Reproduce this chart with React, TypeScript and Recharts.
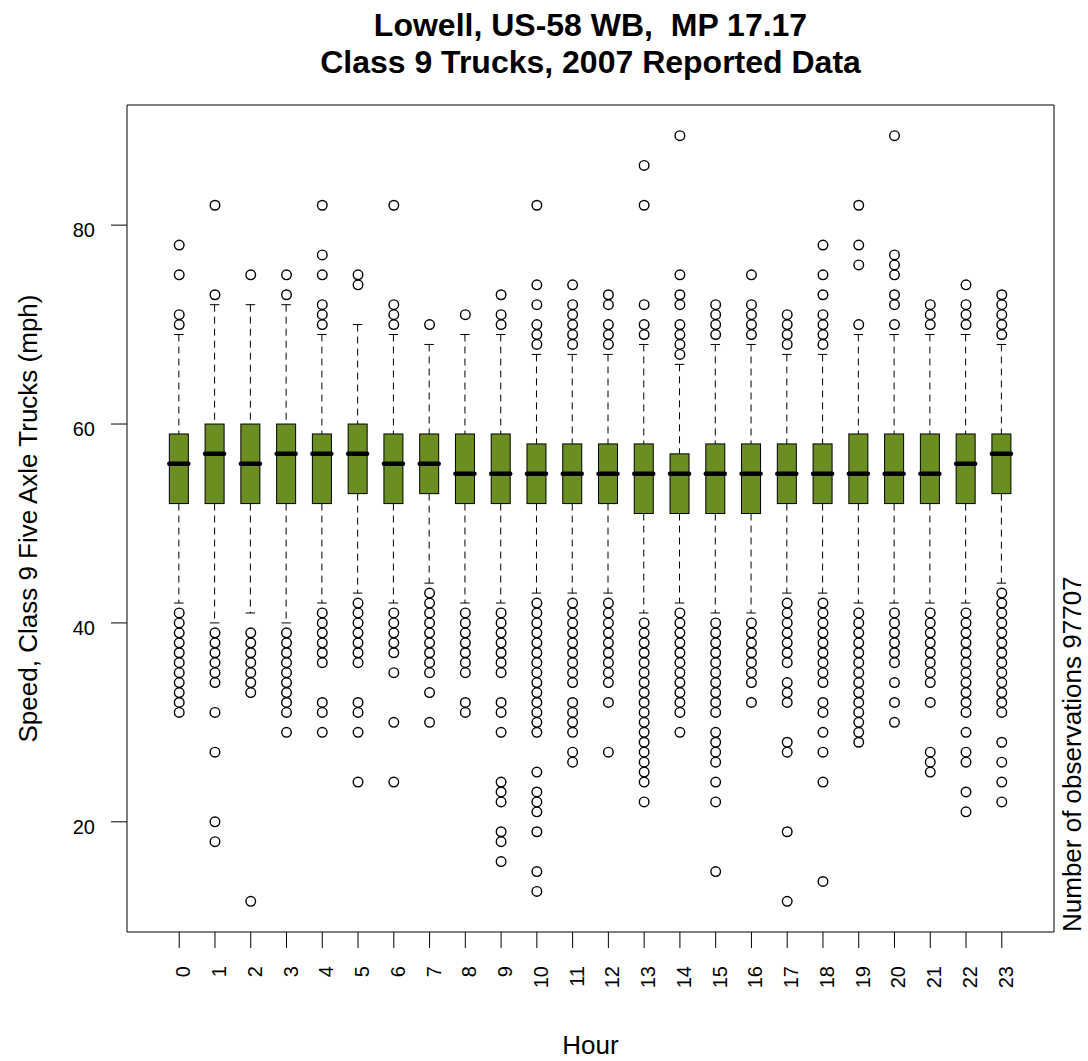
import { ComposedChart, Bar, Scatter, XAxis, YAxis, ReferenceArea } from 'recharts';

const hours = [0, 1, 2, 3, 4, 5, 6, 7, 8, 9, 10, 11, 12, 13, 14, 15, 16, 17, 18, 19, 20, 21, 22, 23];
const lowerWhisker = [42, 40, 41, 40, 42, 43, 42, 44, 42, 42, 43, 43, 43, 41, 42, 41, 41, 43, 43, 42, 42, 42, 42, 44];
const lowerHinge = [52, 52, 52, 52, 52, 53, 52, 53, 52, 52, 52, 52, 52, 51, 51, 51, 51, 52, 52, 52, 52, 52, 52, 53];
const medians = [56, 57, 56, 57, 57, 57, 56, 56, 55, 55, 55, 55, 55, 55, 55, 55, 55, 55, 55, 55, 55, 55, 56, 57];
const upperHinge = [59, 60, 60, 60, 59, 60, 59, 59, 59, 59, 58, 58, 58, 58, 57, 58, 58, 58, 58, 59, 59, 59, 59, 59];
const upperWhisker = [69, 72, 72, 72, 69, 70, 69, 68, 69, 69, 67, 67, 67, 68, 66, 68, 68, 67, 67, 69, 69, 69, 69, 68];

// outlying speeds per hour
const outliers: number[][] = [
  [78, 75, 71, 70, 41, 40, 39, 38, 37, 36, 35, 34, 33, 32, 31],
  [82, 73, 39, 38, 37, 36, 35, 34, 31, 27, 20, 18],
  [75, 39, 38, 37, 36, 35, 34, 33, 12],
  [75, 73, 39, 38, 37, 36, 35, 34, 33, 32, 31, 29],
  [82, 77, 75, 72, 71, 70, 41, 40, 39, 38, 37, 36, 32, 31, 29],
  [75, 74, 42, 41, 40, 39, 38, 37, 36, 32, 31, 29, 24],
  [82, 72, 71, 70, 41, 40, 39, 38, 37, 35, 30, 24],
  [70, 43, 42, 41, 40, 39, 38, 37, 36, 35, 33, 30],
  [71, 41, 40, 39, 38, 37, 36, 35, 32, 31],
  [73, 71, 70, 41, 40, 39, 38, 37, 36, 35, 32, 31, 29, 24, 23, 22, 19, 18, 16],
  [82, 74, 72, 70, 69, 68, 42, 41, 40, 39, 38, 37, 36, 35, 34, 33, 32, 31, 30, 29, 25, 23, 22, 21, 19, 15, 13],
  [74, 72, 71, 70, 69, 68, 42, 41, 40, 39, 38, 37, 36, 35, 34, 32, 31, 30, 29, 27, 26],
  [73, 72, 70, 69, 68, 42, 41, 40, 39, 38, 37, 36, 35, 34, 32, 27],
  [86, 82, 72, 70, 69, 40, 39, 38, 37, 36, 35, 34, 33, 32, 31, 30, 29, 28, 27, 26, 25, 24, 22],
  [89, 75, 73, 72, 70, 69, 68, 67, 41, 40, 39, 38, 37, 36, 35, 34, 33, 32, 31, 29],
  [72, 71, 70, 69, 40, 39, 38, 37, 36, 35, 34, 33, 32, 31, 29, 28, 27, 26, 24, 22, 15],
  [75, 72, 71, 70, 69, 40, 39, 38, 37, 36, 35, 34, 32],
  [71, 70, 69, 68, 42, 41, 40, 39, 38, 37, 36, 34, 33, 32, 28, 27, 19, 12],
  [78, 75, 73, 71, 70, 69, 68, 42, 41, 40, 39, 38, 37, 36, 35, 34, 32, 31, 29, 27, 24, 14],
  [82, 78, 76, 70, 41, 40, 39, 38, 37, 36, 35, 34, 33, 32, 31, 30, 29, 28],
  [89, 77, 76, 75, 73, 72, 70, 41, 40, 39, 38, 37, 36, 34, 32, 30],
  [72, 71, 70, 41, 40, 39, 38, 37, 36, 35, 34, 32, 27, 26, 25],
  [74, 72, 71, 70, 41, 40, 39, 38, 37, 36, 35, 34, 33, 32, 31, 29, 27, 26, 23, 21],
  [73, 72, 71, 70, 69, 43, 42, 41, 40, 39, 38, 37, 36, 35, 34, 33, 32, 31, 28, 26, 24, 22],
];

const yTicks = [20, 40, 60, 80];
const observations = 97707;

const FONT = '"Liberation Sans", Arial, Helvetica, sans-serif';

const boxData = hours.map((h, i) => ({
  hour: h,
  span: [lowerWhisker[i], upperWhisker[i]],
  lw: lowerWhisker[i],
  q1: lowerHinge[i],
  med: medians[i],
  q3: upperHinge[i],
  uw: upperWhisker[i],
}));

const outlierPoints = hours.flatMap((h, i) => outliers[i].map((s) => ({ hour: h, speed: s })));

const BoxShape = (props: any) => {
  const { x, y, width, height, payload } = props;
  if (!payload) return null;
  const top = Math.min(y, y + height);
  const h = Math.abs(height);
  const { lw, q1, med, q3, uw } = payload;
  // map a speed to pixels inside the whisker span
  const py = (v: number) => top + (h * (uw - v)) / (uw - lw);
  const cx = x + width / 2;
  const cap = width / 4;
  return (
    <g>
      <line x1={cx} x2={cx} y1={py(uw)} y2={py(q3)} stroke="#000" strokeDasharray="7 5" />
      <line x1={cx} x2={cx} y1={py(q1)} y2={py(lw)} stroke="#000" strokeDasharray="7 5" />
      <line x1={cx - cap} x2={cx + cap} y1={py(uw)} y2={py(uw)} stroke="#000" />
      <line x1={cx - cap} x2={cx + cap} y1={py(lw)} y2={py(lw)} stroke="#000" />
      <rect x={x} y={py(q3)} width={width} height={py(q1) - py(q3)} fill="#6B8E23" stroke="#000" />
      <line x1={x} x2={x + width} y1={py(med)} y2={py(med)} stroke="#000" strokeWidth={4.5} strokeLinecap="round" />
    </g>
  );
};

const Ring = (props: any) => (
  <circle cx={props.cx} cy={props.cy} r={4.8} fill="none" stroke="#000" strokeWidth={1.4} />
);

const XTick = (props: any) => {
  const { x, y, payload } = props;
  const tx = x + 11;
  const ty = y + 18;
  return (
    <text x={tx} y={ty} transform={`rotate(-90, ${tx}, ${ty})`} textAnchor="end" fontSize={20} fontFamily={FONT} fill="#000">
      {payload.value}
    </text>
  );
};

const YTick = (props: any) => {
  const { x, y, payload } = props;
  return (
    <text x={x - 16} y={y + 12} textAnchor="end" fontSize={20} fontFamily={FONT} fill="#000">
      {payload.value}
    </text>
  );
};

export default function App() {
  return (
    <div style={{ position: 'absolute', left: 0, top: 0, width: 1088, height: 1061, background: '#fff' }}>
      <ComposedChart width={1088} height={1061} data={boxData} margin={{ top: 105, right: 34, bottom: 0, left: 0 }}>
        <XAxis
          type="number"
          dataKey="hour"
          domain={[-1.46, 24.46]}
          ticks={hours}
          interval={0}
          allowDataOverflow
          height={129}
          tickSize={16}
          tickMargin={0}
          axisLine={false}
          tickLine={{ stroke: '#000' }}
          tick={<XTick />}
        />
        <YAxis
          type="number"
          domain={[8.92, 92.08]}
          ticks={yTicks}
          allowDataOverflow
          width={127}
          tickSize={16}
          tickMargin={0}
          axisLine={false}
          tickLine={{ stroke: '#000' }}
          tick={<YTick />}
        />
        <Bar dataKey="span" barSize={19} shape={<BoxShape />} isAnimationActive={false} />
        <Scatter data={outlierPoints} dataKey="speed" shape={<Ring />} isAnimationActive={false} />
        <ReferenceArea x1={-1.46} x2={24.46} y1={8.92} y2={92.08} fill="none" stroke="#000" strokeWidth={1} ifOverflow="visible" />
      </ComposedChart>
      <svg width={1088} height={1061} style={{ position: 'absolute', left: 0, top: 0, pointerEvents: 'none' }}>
        <g fontFamily={FONT} fill="#000">
          <text x={590.5} y={36} textAnchor="middle" fontSize={32} fontWeight="bold">
            Lowell, US-58 WB,{'\u00a0\u00a0'}MP 17.17
          </text>
          <text x={590.5} y={73} textAnchor="middle" fontSize={32} fontWeight="bold">
            Class 9 Trucks, 2007 Reported Data
          </text>
          <text x={590.5} y={1054} textAnchor="middle" fontSize={26}>
            Hour
          </text>
          <text x={37} y={518.5} transform="rotate(-90, 37, 518.5)" textAnchor="middle" fontSize={26}>
            Speed, Class 9 Five Axle Trucks (mph)
          </text>
          <text x={1081} y={932} transform="rotate(-90, 1081, 932)" textAnchor="start" fontSize={26}>
            Number of observations {observations}
          </text>
        </g>
      </svg>
    </div>
  );
}
